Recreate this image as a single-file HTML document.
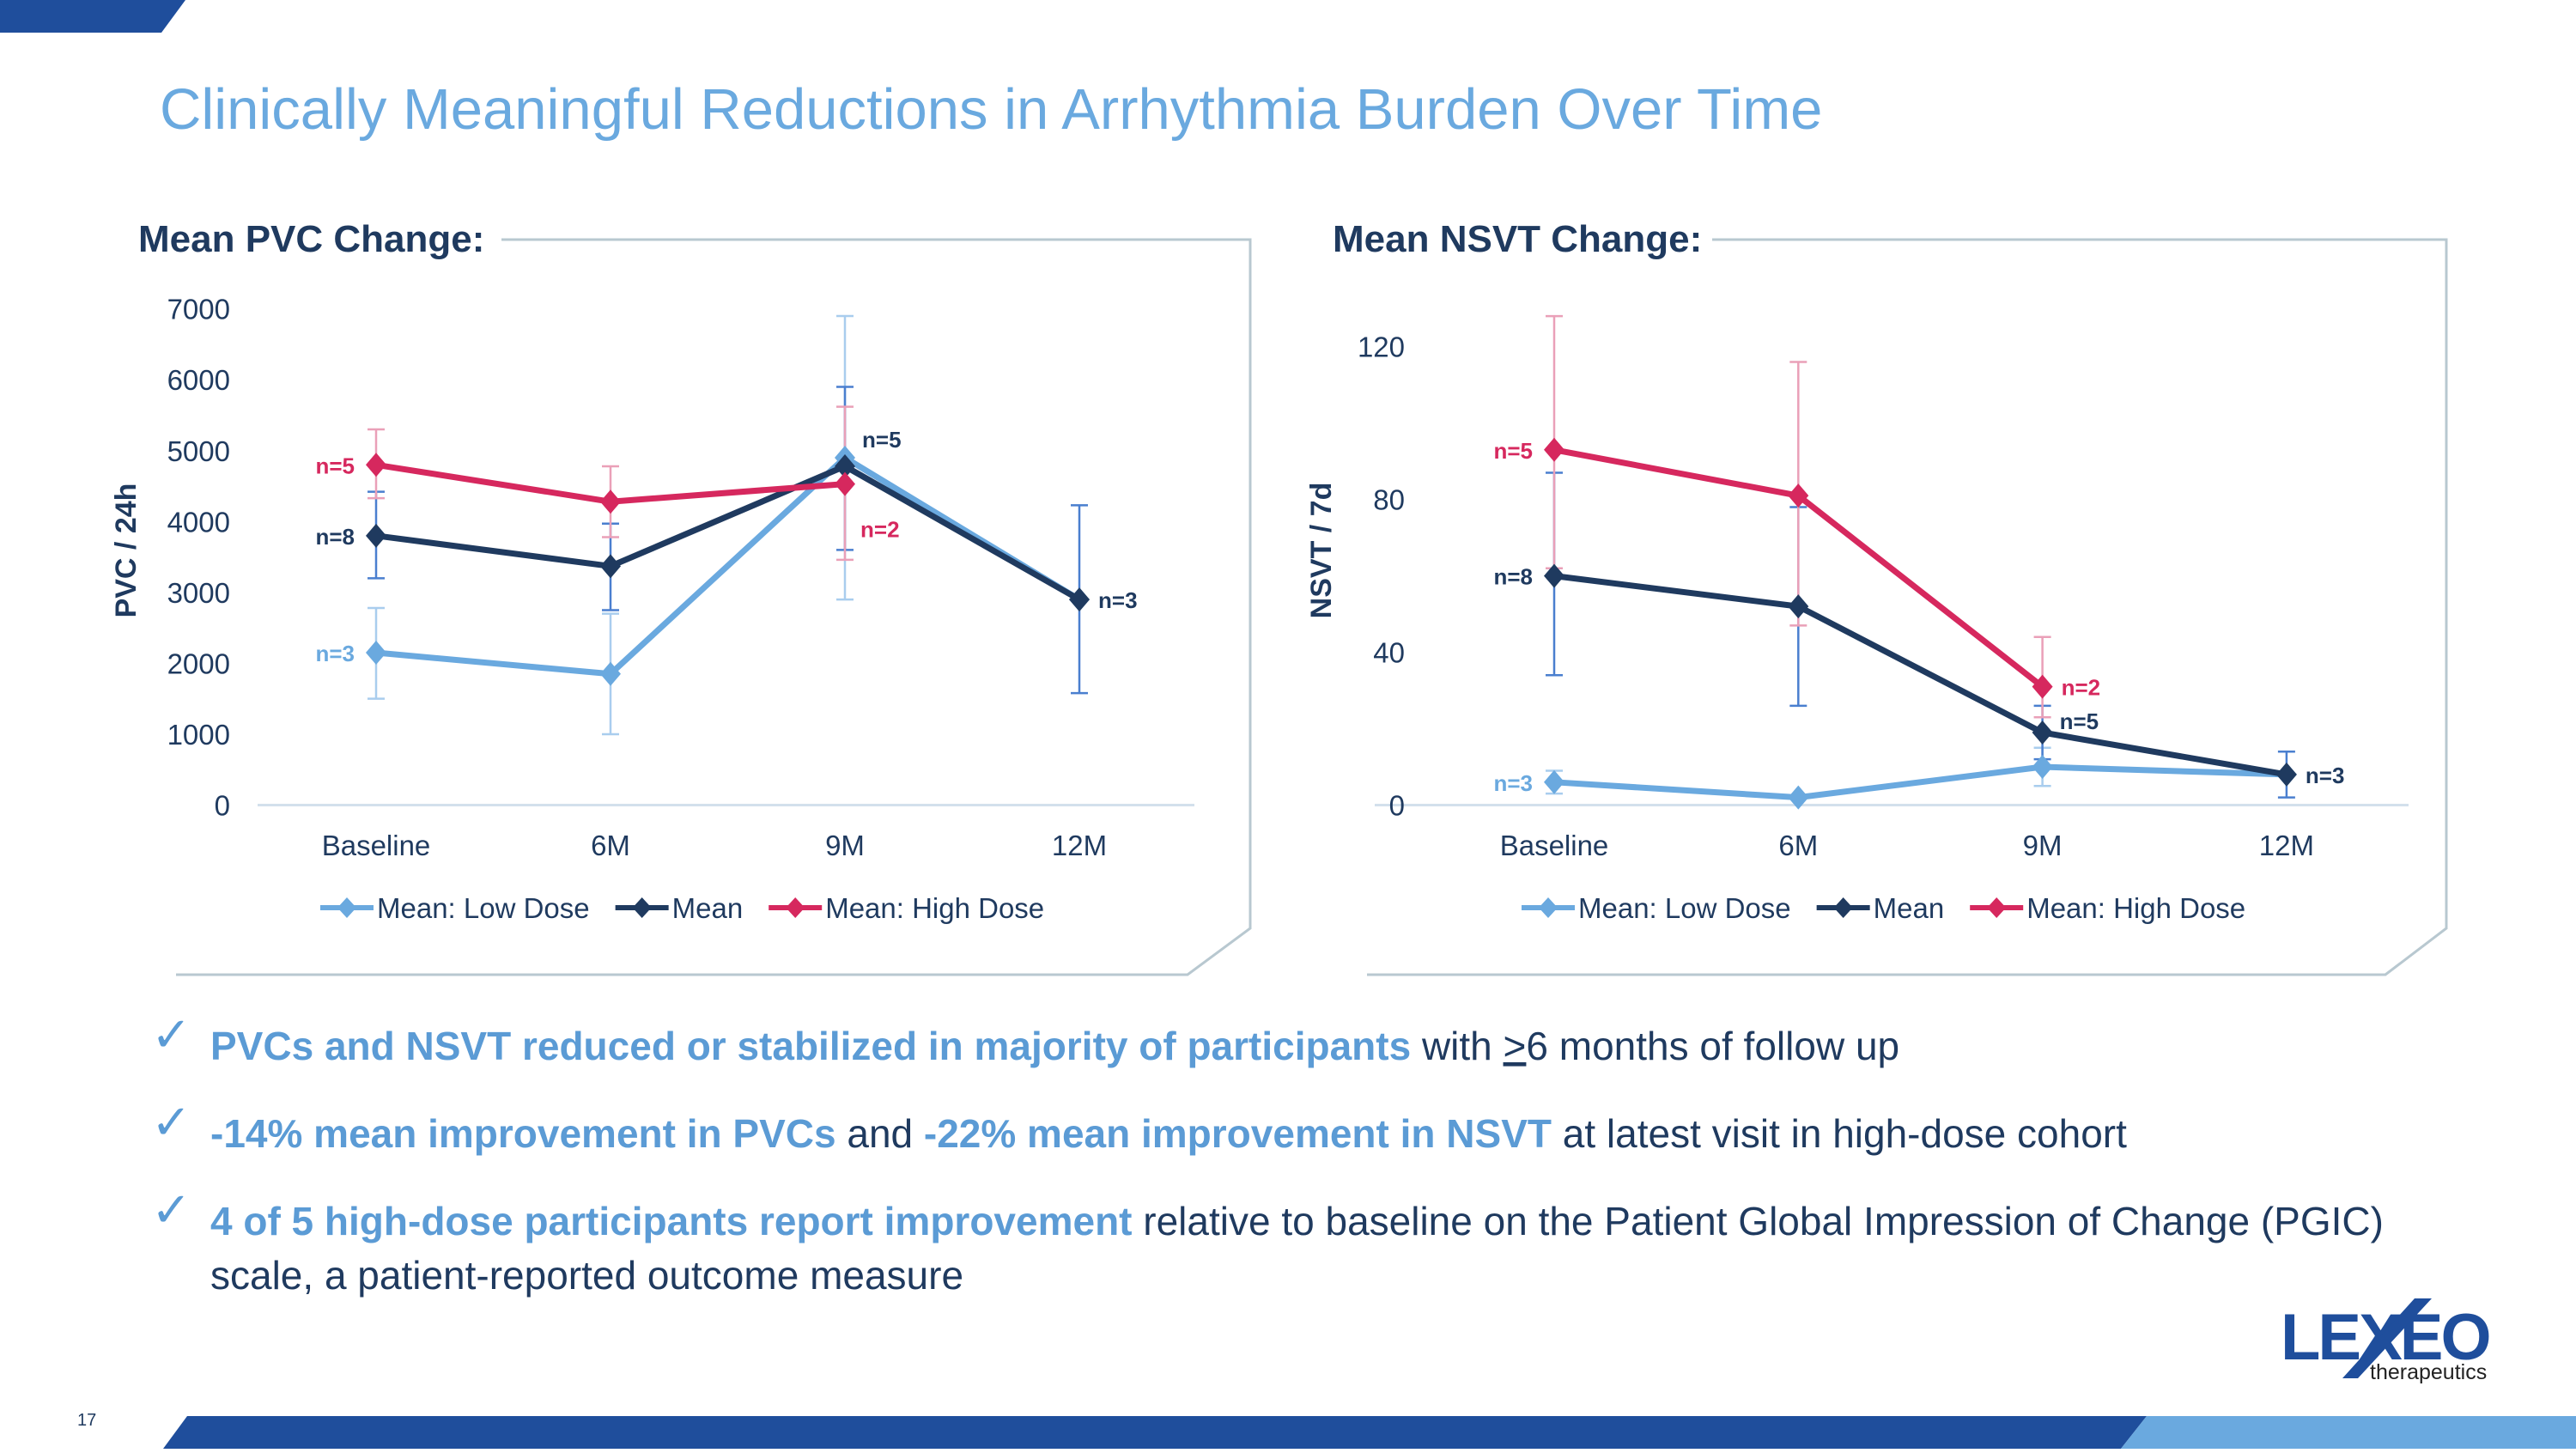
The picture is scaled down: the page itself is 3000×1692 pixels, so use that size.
<!DOCTYPE html>
<html><head><meta charset="utf-8"><style>
html,body{margin:0;padding:0;background:#fff}
body{width:3000px;height:1687px;overflow:hidden;font-family:"Liberation Sans",sans-serif}
svg text{font-family:"Liberation Sans",sans-serif}
</style></head><body>
<svg id="s" width="3000" height="1687" viewBox="0 0 3000 1687" xmlns="http://www.w3.org/2000/svg">
<polygon points="0,0 216,0 188,38 0,38" fill="#1f4e9c"/>
<polygon points="218,1649 2500,1649 2470,1687 190,1687" fill="#1f4e9c"/>
<polygon points="2500,1649 3000,1649 3000,1687 2470,1687" fill="#6aa9df"/>
<text x="186" y="150" font-size="67" fill="#6aa9df">Clinically Meaningful Reductions in Arrhythmia Burden Over Time</text>
<text x="90" y="1660" font-size="20" fill="#1f3a5f">17</text>

<text x="161" y="293" font-size="44" font-weight="bold" fill="#1f3a5f">Mean PVC Change:</text>
<polyline points="584,279 1456,279 1456,1081 1383,1135 205,1135" fill="none" stroke="#b8c8d0" stroke-width="3"/>
<text x="1552" y="293" font-size="44" font-weight="bold" fill="#1f3a5f">Mean NSVT Change:</text>
<polyline points="1994,279 2849,279 2849,1081 2778,1135 1592,1135" fill="none" stroke="#b8c8d0" stroke-width="3"/>
<g id="pvc"></g>
<g id="nsvt"></g>

<g font-size="46">
<text x="176" y="1224" font-size="56" fill="#5b9bd5">✓</text>
<text x="245" y="1234" fill="#1f3a5f"><tspan font-weight="bold" fill="#5b9bd5">PVCs and NSVT reduced or stabilized in majority of participants</tspan> with <tspan text-decoration="underline">&gt;</tspan>6 months of follow up</text>
<text x="176" y="1326" font-size="56" fill="#5b9bd5">✓</text>
<text x="245" y="1336" fill="#1f3a5f"><tspan font-weight="bold" fill="#5b9bd5">-14% mean improvement in PVCs</tspan> and <tspan font-weight="bold" fill="#5b9bd5">-22% mean improvement in NSVT</tspan> at latest visit in high-dose cohort</text>
<text x="176" y="1428" font-size="56" fill="#5b9bd5">✓</text>
<text x="245" y="1438" fill="#1f3a5f"><tspan font-weight="bold" fill="#5b9bd5">4 of 5 high-dose participants report improvement</tspan> relative to baseline on the Patient Global Impression of Change (PGIC)</text>
<text x="245" y="1501" fill="#1f3a5f">scale, a patient-reported outcome measure</text>
</g>
<g>
<text x="2656" y="1583" font-size="76" font-weight="bold" fill="#1f4e9c" letter-spacing="-3">LEXEO</text>
<polygon points="2812,1512 2832,1512 2746,1605 2728,1605" fill="#1f4e9c"/>
<text x="2760" y="1606" font-size="25" fill="#222">therapeutics</text>
</g>
</svg>
<script>
const categories=["Baseline","6M","9M","12M"];
const pvcTicks=[0,1000,2000,3000,4000,5000,6000,7000];
const pvcLow=[2150,1850,4900,2900];
const pvcMean=[3800,3370,4780,2900];
const pvcHigh=[4800,4280,4530,null];
const pvcLowErr=[[1500,2780],[1000,2700],[2900,6900],null];
const pvcMeanErr=[[3200,4420],[2750,3970],[3600,5900],[1580,4230]];
const pvcHighErr=[[4330,5300],[3780,4780],[3460,5620],null];
const pvcLabels=[["n=3",0,"low","l"],["n=8",0,"mean","l"],["n=5",0,"high","l"],["n=5",2,"mean","r-up"],["n=2",2,"high","r-down"],["n=3",3,"mean","r"]];
const nsvtTicks=[0,40,80,120];
const nsvtLow=[6,2,10,8];
const nsvtMean=[60,52,19,8];
const nsvtHigh=[93,81,31,null];
const nsvtLowErr=[[3,9],null,[5,15],null];
const nsvtMeanErr=[[34,87],[26,78],[12,26],[2,14]];
const nsvtHighErr=[[62,128],[47,116],[23,44],null];
const nsvtLabels=[["n=3",0,"low","l"],["n=8",0,"mean","l"],["n=5",0,"high","l"],["n=2",2,"high","r"],["n=5",2,"mean","r-sm"],["n=3",3,"mean","r"]];

const NS="http://www.w3.org/2000/svg";
const colors={low:"#6aa9df",mean:"#1f3a5f",high:"#d6285e"};
const errColors={low:"#a9cdee",mean:"#4a7fcf",high:"#eaa0b8"};
function mk(p,tag,attrs){const e=document.createElementNS(NS,tag);for(const k in attrs)e.setAttribute(k,attrs[k]);p.appendChild(e);return e;}

function draw(gid,cfg){
  const g=document.getElementById(gid);
  const y=v=>cfg.y0-(v/cfg.max)*(cfg.y0-cfg.yTop);
  const x=i=>cfg.xs0+i*cfg.dx;
  const axis=mk(g,"line",{x1:cfg.ax1,x2:cfg.ax2,y1:cfg.y0,y2:cfg.y0,stroke:"#d3e0ec","stroke-width":3});
  
  
  cfg.ticks.forEach(t=>{
    const e=mk(g,"text",{x:cfg.tickX,y:y(t)+12,"font-size":33,fill:"#1f3a5f","text-anchor":"end"});
    e.textContent=t;
    
    
  });
  categories.forEach((c,i)=>{
    const e=mk(g,"text",{x:x(i),y:996,"font-size":33,fill:"#1f3a5f","text-anchor":"middle"});
    e.textContent=c;
    
    
  });
  const at=mk(g,"text",{x:0,y:0,"font-size":34,"font-weight":"bold",fill:"#1f3a5f","text-anchor":"middle",transform:`translate(${cfg.titleX},${cfg.titleY}) rotate(-90)`});
  at.textContent=cfg.title;
  
  
  const order=[["low",cfg.low,cfg.lowErr],["mean",cfg.mean,cfg.meanErr],["high",cfg.high,cfg.highErr]];
  order.forEach(([k,vals,errs])=>{
    errs.forEach((e,i)=>{ if(!e)return;
      const eb=mk(g,"path",{d:`M${x(i)},${y(e[0])}V${y(e[1])}M${x(i)-10},${y(e[0])}h20M${x(i)-10},${y(e[1])}h20`,stroke:errColors[k],"stroke-width":2.5,fill:"none"});
      
      
    });
  });
  order.forEach(([k,vals])=>{
    const pts=vals.map((v,i)=>v==null?null:[x(i),y(v)]).filter(p=>p);
    const ln=mk(g,"polyline",{points:pts.map(p=>p.join(",")).join(" "),fill:"none",stroke:colors[k],"stroke-width":7});
    
    
    pts.forEach(p=>{
      const d=mk(g,"polygon",{points:`${p[0]},${p[1]-14} ${p[0]+12},${p[1]} ${p[0]},${p[1]+14} ${p[0]-12},${p[1]}`,fill:colors[k]});
      
      
    });
  });
  cfg.labels.forEach(([t,i,k,pos])=>{
    const v=cfg[k][i];
    let lx=x(i),ly=y(v)+10,anchor="start";
    if(pos==="l"){lx-=25;anchor="end";}
    else if(pos==="r"){lx+=22;}
    else if(pos==="r-up"){lx+=20;ly-=32;}
    else if(pos==="r-sm"){lx+=20;ly-=14;}
    else if(pos==="r-down"){lx+=18;ly+=52;}
    const e=mk(g,"text",{x:lx,y:ly,"font-size":26,"font-weight":"bold",fill:colors[k],"text-anchor":anchor});
    e.textContent=t;
    
    
  });
  const lg=mk(g,"g",{});
  
  
  const names=[["low","Mean: Low Dose"],["mean","Mean"],["high","Mean: High Dose"]];
  let lx=cfg.legX;
  names.forEach(([k,n])=>{
    mk(lg,"line",{x1:lx,x2:lx+62,y1:1057,y2:1057,stroke:colors[k],"stroke-width":6});
    mk(lg,"polygon",{points:`${lx+31},${1045} ${lx+42},${1057} ${lx+31},${1069} ${lx+20},${1057}`,fill:colors[k]});
    const e=mk(lg,"text",{x:lx+66,y:1069,"font-size":33,fill:"#1f3a5f"});
    e.textContent=n;
    
    
    lx+=66+e.getComputedTextLength()+30;
  });
}
draw("pvc",{y0:937.5,yTop:359.7,max:7000,xs0:438,dx:273,ax1:300,ax2:1391,ticks:pvcTicks,tickX:268,title:"PVC / 24h",titleX:158,titleY:641,
  low:pvcLow,mean:pvcMean,high:pvcHigh,lowErr:pvcLowErr,meanErr:pvcMeanErr,highErr:pvcHighErr,labels:pvcLabels,legX:373});
draw("nsvt",{y0:937.5,yTop:403.7,max:120,xs0:1810,dx:284.3,ax1:1601,ax2:2805,ticks:nsvtTicks,tickX:1636,title:"NSVT / 7d",titleX:1550,titleY:641,
  low:nsvtLow,mean:nsvtMean,high:nsvtHigh,lowErr:nsvtLowErr,meanErr:nsvtMeanErr,highErr:nsvtHighErr,labels:nsvtLabels,legX:1772});
</script>
</body></html>
